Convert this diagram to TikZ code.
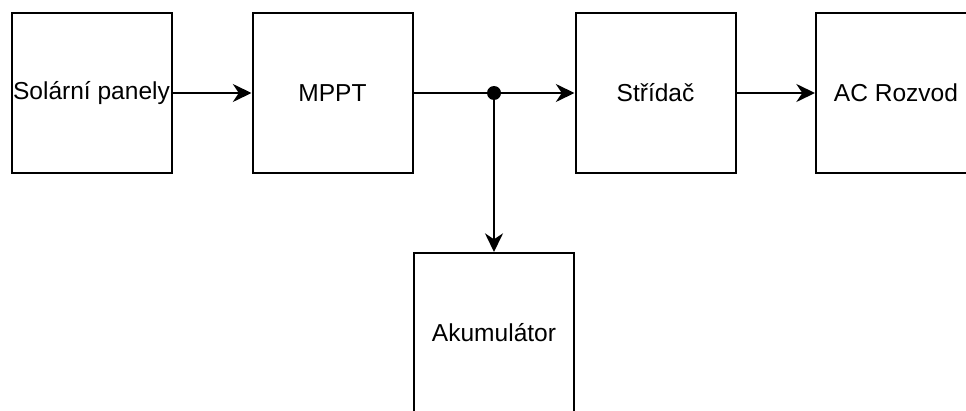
\documentclass[tikz,border=0pt]{standalone}
\usepackage{fontspec}
\setmainfont{Liberation Sans}
\usetikzlibrary{arrows.meta}
\begin{document}
\begin{tikzpicture}[x=0.75pt,y=-0.75pt,
  blockbox/.style={draw=black, line width=1.5pt, fill=white, minimum width=120pt, minimum height=120pt, inner sep=0pt, font=\fontsize{18.4}{22}\selectfont},
  conn/.style={line width=1.5pt, -{Stealth[length=14pt,width=13.5pt,inset=4.5pt]}},
  plainconn/.style={line width=1.5pt}]
\useasboundingbox (0,0) rectangle (966,410);
\clip (0,0) rectangle (966,410);
\fill[white] (0,0) rectangle (966,410);
\node[blockbox] (solar) at (91.5,93) {Solární panely};
\node[blockbox] (mppt) at (332.5,93) {MPPT};
\node[blockbox] (stridac) at (655.5,93) {Střídač};
\node[blockbox] (ac) at (896,93) {AC Rozvod};
\node[blockbox] (aku) at (494,333) {Akumulátor};
\coordinate (junc) at (494,93);
\draw[conn] (solar.east) -- (mppt.west);
\draw[plainconn] (mppt.east) -- (junc);
\draw[conn] (junc) -- (stridac.west);
\draw[conn] (junc) -- (aku.north);
\draw[conn] (stridac.east) -- (ac.west);
\fill[black] (junc) circle (5.25pt);
\end{tikzpicture}
\end{document}
